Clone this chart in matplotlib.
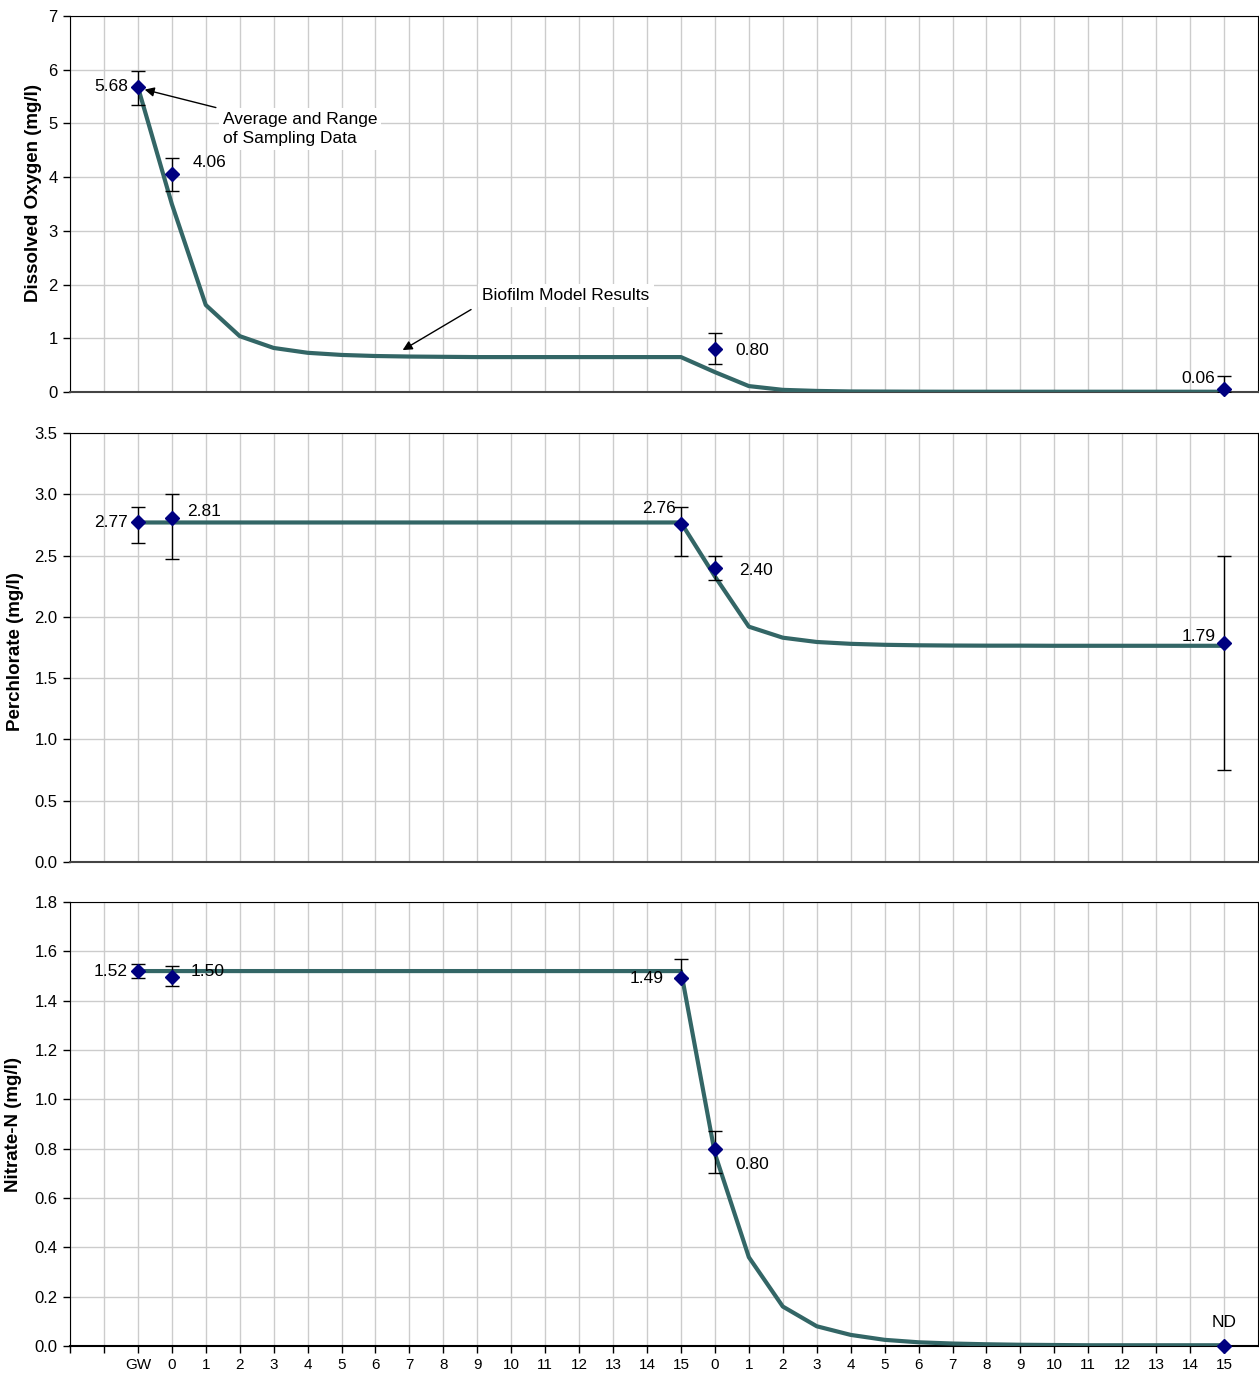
import numpy as np
import matplotlib.pyplot as plt

plt.rcParams['font.family'] = ['Liberation Sans', 'DejaVu Sans']

## category axis: two blank slots, GW, then two runs of 0..15
xlabels = ['', '', 'GW'] + [str(i) for i in range(16)] + [str(i) for i in range(16)]
xpos = np.arange(len(xlabels))

## biofilm model results (from GW onward, one value per category)
do_model = [5.68, 3.5, 1.62, 1.04, 0.82, 0.73, 0.69, 0.67, 0.66, 0.655, 0.65, 0.65,
            0.65, 0.65, 0.65, 0.65, 0.65, 0.37, 0.11, 0.04, 0.02, 0.01, 0.008, 0.006,
            0.005, 0.005, 0.005, 0.005, 0.005, 0.005, 0.005, 0.005, 0.005]
clo4_model = [2.77] * 17 + [2.33, 1.92, 1.83, 1.795, 1.78, 1.772, 1.768, 1.766, 1.765,
                             1.765, 1.764, 1.764, 1.764, 1.764, 1.764, 1.764]
no3_model = [1.52] * 17 + [0.78, 0.36, 0.16, 0.08, 0.045, 0.025, 0.015, 0.01, 0.007,
                            0.005, 0.004, 0.003, 0.003, 0.003, 0.003, 0.003]

## sampling data: category index, mean, low, high, label
do_x = [2, 3, 19, 34]
do_y = [5.68, 4.06, 0.80, 0.06]
do_lo = [5.35, 3.75, 0.52, 0.0]
do_hi = [5.97, 4.35, 1.10, 0.30]
do_lab = ['5.68', '4.06', '0.80', '0.06']

clo4_x = [2, 3, 18, 19, 34]
clo4_y = [2.77, 2.81, 2.76, 2.40, 1.79]
clo4_lo = [2.60, 2.47, 2.50, 2.30, 0.75]
clo4_hi = [2.90, 3.00, 2.90, 2.50, 2.50]
clo4_lab = ['2.77', '2.81', '2.76', '2.40', '1.79']

no3_x = [2, 3, 18, 19, 34]
no3_y = [1.52, 1.495, 1.49, 0.80, 0.0]
no3_lo = [1.49, 1.46, 1.49, 0.70, 0.0]
no3_hi = [1.55, 1.54, 1.57, 0.87, 0.0]
no3_lab = ['1.52', '1.50', '1.49', '0.80', 'ND']

line_col = '#336666'
mark_col = '#000080'

fig = plt.figure(figsize=(12.59, 13.74), dpi=100)
L, W = 70/1259, 1188/1259
ax1 = fig.add_axes([L, 1-392/1374, W, 376/1374])
ax2 = fig.add_axes([L, 1-862/1374, W, 429/1374])
ax3 = fig.add_axes([L, 1-1346/1374, W, 444/1374])

def panel(ax, model, px, py, plo, phi, ylim, yticks, fmt, ylabel):
    ax.set_xlim(0, len(xlabels))
    ax.set_ylim(*ylim)
    ax.set_yticks(yticks)
    ax.set_yticklabels([fmt % v for v in yticks], fontsize=12)
    ax.set_xticks(xpos)
    ax.grid(True, color='#cccccc', lw=1)
    ax.set_axisbelow(True)
    ax.plot(xpos[2:2+len(model)], model, color=line_col, lw=3, zorder=3, solid_capstyle='round')
    yerr = [np.array(py) - np.array(plo), np.array(phi) - np.array(py)]
    ax.errorbar(px, py, yerr=yerr, fmt='none', ecolor='black', elinewidth=1,
                capsize=5, capthick=1, zorder=4)
    ax.plot(px, py, 'D', color=mark_col, ms=7, zorder=5, clip_on=False)
    ax.set_ylabel(ylabel, fontsize=13.5, fontweight='bold')
    ax.tick_params(axis='y', direction='out', length=5, width=1, pad=4)
    for s in ['left', 'top', 'right']:
        ax.spines[s].set_color('black')
    ax.spines['bottom'].set_color('#444444')
    ax.spines['bottom'].set_linewidth(1.5)

panel(ax1, do_model, do_x, do_y, do_lo, do_hi, (0, 7), range(0, 8), '%d',
      'Dissolved Oxygen (mg/l)')
panel(ax2, clo4_model, clo4_x, clo4_y, clo4_lo, clo4_hi, (0, 3.5),
      np.arange(0, 3.51, 0.5), '%.1f', 'Perchlorate (mg/l)')
panel(ax3, no3_model, no3_x, no3_y, no3_lo, no3_hi, (0, 1.8),
      np.arange(0, 1.81, 0.2), '%.1f', 'Nitrate-N (mg/l)')

for ax in (ax1, ax2):
    ax.tick_params(axis='x', length=0, labelbottom=False)
ax3.set_xticklabels(xlabels, fontsize=11)
ax3.tick_params(axis='x', direction='out', length=5, width=1)
ax3.spines['bottom'].set_color('black')

ax1.yaxis.set_label_coords(-0.0236, 0.53)
ax2.yaxis.set_label_coords(-0.0387, 0.49)
ax3.yaxis.set_label_coords(-0.0400, 0.50)

## data labels
lab_kw = dict(fontsize=12.5, zorder=6)
ax1.text(1.7, 5.68, do_lab[0], ha='right', va='center', **lab_kw)
ax1.text(3.6, 4.06 + 0.22, do_lab[1], ha='left', va='center', **lab_kw)
ax1.text(19.6, 0.78, do_lab[2], ha='left', va='center', **lab_kw)
ax1.text(33.75, 0.26, do_lab[3], ha='right', va='center', **lab_kw)

ax2.text(1.7, 2.77, clo4_lab[0], ha='right', va='center', **lab_kw)
ax2.text(3.45, 2.86, clo4_lab[1], ha='left', va='center', **lab_kw)
ax2.text(17.85, 2.88, clo4_lab[2], ha='right', va='center', **lab_kw)
ax2.text(19.7, 2.38, clo4_lab[3], ha='left', va='center', **lab_kw)
ax2.text(33.75, 1.84, clo4_lab[4], ha='right', va='center', **lab_kw)

ax3.text(1.7, 1.52, no3_lab[0], ha='right', va='center', **lab_kw)
ax3.text(3.55, 1.52, no3_lab[1], ha='left', va='center', **lab_kw)
ax3.text(17.5, 1.49, no3_lab[2], ha='right', va='center', **lab_kw)
ax3.text(19.6, 0.735, no3_lab[3], ha='left', va='center', **lab_kw)
ax3.text(34.0, 0.095, no3_lab[4], ha='center', va='center', **lab_kw)

## callouts
box = dict(facecolor='white', edgecolor='none', pad=3)
ax1.annotate('Average and Range\nof Sampling Data', xy=(2.2, 5.63), xytext=(4.5, 4.9),
             fontsize=12.5, ha='left', va='center', bbox=box, zorder=7, linespacing=1.35,
             arrowprops=dict(arrowstyle='-|>', color='black', lw=1, mutation_scale=14,
                             shrinkA=2, shrinkB=0))
ax1.annotate('Biofilm Model Results', xy=(9.8, 0.78), xytext=(12.15, 1.8),
             fontsize=12.5, ha='left', va='center', bbox=box, zorder=7,
             arrowprops=dict(arrowstyle='-|>', color='black', lw=1, mutation_scale=14,
                             shrinkA=6, shrinkB=0,
                             relpos=(0, 0)))

fig.savefig('out.png', dpi=100)
